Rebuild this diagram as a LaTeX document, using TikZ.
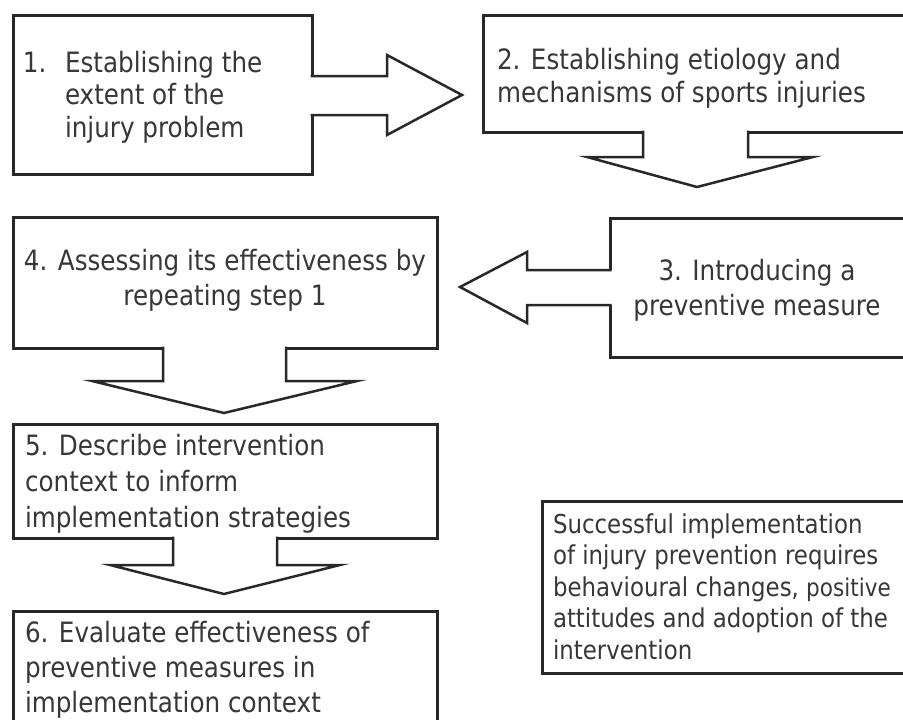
\documentclass[tikz,border=0pt]{standalone}
\usepackage{fontspec}
\setmainfont{DejaVu Sans}[FakeStretch=0.88]
\usetikzlibrary{calc}
\definecolor{inkline}{RGB}{40,40,40}
\definecolor{inktext}{RGB}{55,55,55}
\begin{document}
\begin{tikzpicture}[x=1pt,y=-1pt,
  stepbox/.style={draw=inkline, line width=3pt, fill=white, inner sep=0pt, outer sep=0pt, anchor=north west},
  steptext/.style={text=inktext, inner sep=0pt, outer sep=0pt, align=left, font=\fontsize{28}{#1}\selectfont},
  steptext/.default=32.5,
  notetext/.style={text=inktext, inner sep=0pt, outer sep=0pt, align=left, font=\fontsize{26}{31.5}\selectfont},
  blockfill/.style={fill=white, draw=none},
  blockline/.style={draw=inkline, line width=2.5pt, line join=miter}]
\useasboundingbox (0,0) rectangle (903,720);
\clip (0,0) rectangle (903,720);
\fill[white] (0,0) rectangle (903,720);

% the step boxes
\node[stepbox, minimum width=299pt, minimum height=159pt] (b1) at (13,15) {};
\node[stepbox, minimum width=437pt, minimum height=117pt] (b2) at (483,15) {};
\node[stepbox, minimum width=310pt, minimum height=139pt] (b3) at (610,218) {};
\node[stepbox, minimum width=424pt, minimum height=131pt] (b4) at (13,217) {};
\node[stepbox, minimum width=424pt, minimum height=114pt] (b5) at (13,424) {};
\node[stepbox, minimum width=424pt, minimum height=129pt] (b6) at (13,611) {};
\node[stepbox, minimum width=378pt, minimum height=172pt] (b7) at (542,501) {};

% texts (each anchored at the baseline of its last line)
\node[steptext, anchor=base west] (t1a) at (23,72) {1.};
\node[steptext, anchor=base west] (t1) at (65,137) {Establishing the\\extent of the\\injury problem};
\node[steptext=33, anchor=base west] (t2) at (497,102) {2. Establishing etiology and\\mechanisms of sports injuries};
\node[steptext=35, anchor=base, align=center] (t3) at (757,315) {3. Introducing a\\preventive measure};
\node[steptext=35, anchor=base, align=center] (t4) at (225,305) {4. Assessing its effectiveness by\\repeating step 1};
\node[steptext=36, anchor=base west] (t5) at (25,527) {5. Describe intervention\\context to inform\\implementation strategies};
\node[steptext=35, anchor=base west] (t6) at (25,712) {6. Evaluate effectiveness of\\preventive measures in\\implementation context};
\node[notetext, anchor=base west] (t7) at (553,659) {Successful implementation\\of injury prevention requires\\behavioural changes, {\fontsize{24.5}{31.5}\selectfont positive}\\attitudes and adoption of the\\intervention};

% block arrow 1 -> 2
\fill[blockfill] ([xshift=-1.9pt]b1.east |- 0,76) -- (387,76) -- (387,55) -- (462,95) -- (387,135) -- (387,115) -- ([xshift=-1.9pt]b1.east |- 0,115) -- cycle;
\draw[blockline] ([xshift=-1.5pt]b1.east |- 0,76) -- (387,76) -- (387,55) -- (462,95) -- (387,135) -- (387,115) -- ([xshift=-1.5pt]b1.east |- 0,115);

% block arrow 2 -> 3
\fill[blockfill] ([yshift=1.9pt]b2.south -| 643,0) -- (643,157) -- (587,157) -- (697,187) -- (813,157) -- (748,157) -- ([yshift=1.9pt]b2.south -| 748,0) -- cycle;
\draw[blockline] ([yshift=1.5pt]b2.south -| 643,0) -- (643,157) -- (587,157) -- (697,187) -- (813,157) -- (748,157) -- ([yshift=1.5pt]b2.south -| 748,0);

% block arrow 3 -> 4
\fill[blockfill] ([xshift=1.9pt]b3.west |- 0,270) -- (527,270) -- (527,252) -- (460,287) -- (527,323) -- (527,305) -- ([xshift=1.9pt]b3.west |- 0,305) -- cycle;
\draw[blockline] ([xshift=1.5pt]b3.west |- 0,270) -- (527,270) -- (527,252) -- (460,287) -- (527,323) -- (527,305) -- ([xshift=1.5pt]b3.west |- 0,305);

% block arrow 4 -> 5
\fill[blockfill] ([yshift=1.9pt]b4.south -| 163,0) -- (163,381) -- (92,381) -- (224,413) -- (357,381) -- (286,381) -- ([yshift=1.9pt]b4.south -| 286,0) -- cycle;
\draw[blockline] ([yshift=1.5pt]b4.south -| 163,0) -- (163,381) -- (92,381) -- (224,413) -- (357,381) -- (286,381) -- ([yshift=1.5pt]b4.south -| 286,0);

% block arrow 5 -> 6
\fill[blockfill] ([yshift=1.9pt]b5.south -| 173,0) -- (173,565) -- (110,565) -- (224,594) -- (340,565) -- (277,565) -- ([yshift=1.9pt]b5.south -| 277,0) -- cycle;
\draw[blockline] ([yshift=1.5pt]b5.south -| 173,0) -- (173,565) -- (110,565) -- (224,594) -- (340,565) -- (277,565) -- ([yshift=1.5pt]b5.south -| 277,0);
\end{tikzpicture}
\end{document}
